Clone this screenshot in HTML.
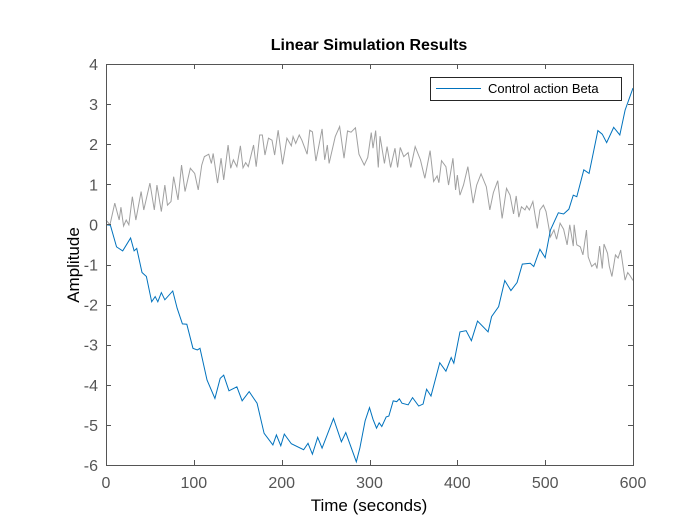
<!DOCTYPE html>
<html><head><meta charset="utf-8"><style>
html,body{margin:0;padding:0;background:#fff;}
svg text{font-family:"Liberation Sans",Arial,sans-serif;}
</style></head><body>
<svg id="chart" width="700" height="525" viewBox="0 0 700 525" xmlns="http://www.w3.org/2000/svg">
<rect x="0" y="0" width="700" height="525" fill="#fff"/>
<rect x="106" y="64" width="527" height="401" fill="#fff"/>
<g id="grayLayer"></g>
<g id="blueLayer"></g>
<g id="axes"></g>
<text x="369" y="50" text-anchor="middle" font-size="16" font-weight="bold" fill="#000">Linear Simulation Results</text>
<text x="369" y="511" text-anchor="middle" font-size="17" fill="#000">Time (seconds)</text>
<text transform="translate(79,265) rotate(-90)" text-anchor="middle" font-size="17" fill="#000">Amplitude</text>
<g>
<rect x="430.5" y="77.5" width="191" height="23" fill="#fff" stroke="#262626" stroke-width="1"/>
<line x1="436" y1="88.5" x2="481" y2="88.5" stroke="#0072BD" stroke-width="1"/>
<text x="488" y="93" font-size="13" fill="#000">Control action Beta</text>
</g>
</svg>
<script>
const xTicks = [0,100,200,300,400,500,600];
const yTicks = [-6,-5,-4,-3,-2,-1,0,1,2,3,4];
const grayT = [0,4.5,10,15,17,20,23,26,30,34,40,43,50,55,58,63,67,70,74,77,82,86,90,96,101,105,109,112,117,120,122,127,131,134,139,142,145,149,153,156,159,162,168,171,175,178,181,185,189,192,196,201,206,211,213,216,220,223,229,232,235,239,246,249,252,254,261,266,271,275,279,284,288,294,298,302,304,307,310,312,317,320,324,329,332,335,339,344,347,352,358,363,369,373,377,379,382,387,390,395,398,400,403,407,412,418,422,427,433,437,441,446,451,456,460,464,467,470,473,477,479,482,486,491,494,498,501,506,510,513,517,521,525,528,532,533,536,540,543,547,549,553,557,559,562,565,567,571,573,576,580,583,586,591,594,597,600];
const grayV = [0.11,-0.01,0.53,0.11,0.43,-0.04,0.11,-0.01,0.69,0.11,0.82,0.36,1.03,0.36,0.98,0.32,0.98,0.48,0.57,1.19,0.61,1.48,0.82,1.40,1.27,0.86,1.48,1.69,1.75,1.52,1.77,1.03,1.65,1.11,1.98,1.40,1.61,1.44,1.96,1.41,1.54,1.44,1.98,1.44,2.23,2.23,1.73,2.15,2.10,1.73,2.35,1.50,2.15,1.96,2.19,2.02,2.23,2.10,1.75,2.35,2.31,1.58,2.38,1.61,1.98,1.52,2.19,2.44,1.65,2.33,2.30,2.41,1.75,1.48,1.67,2.29,1.90,2.34,1.42,2.20,1.52,1.94,1.42,1.90,1.42,1.92,1.69,1.79,1.42,1.94,1.61,1.15,1.84,1.07,1.21,1.04,1.59,1.44,0.98,1.65,0.86,1.23,0.73,0.98,1.44,0.53,0.98,1.26,0.94,0.36,0.79,1.09,0.15,0.90,0.73,0.26,0.71,0.18,0.44,0.36,0.46,0.36,0.57,-0.10,0.36,0.48,0.32,-0.31,-0.14,-0.37,0.03,-0.12,-0.51,-0.01,-0.54,-0.01,-0.51,-0.56,-0.76,-0.14,-0.81,-1.05,-0.97,-1.10,-0.54,-1.10,-0.49,-0.72,-1.04,-1.30,-0.76,-0.84,-0.64,-1.39,-1.20,-1.29,-1.40];
const blueT = [0,5,12,19,28,32,35,41,46,52,56,59,63,67,76,81,87,92,99,104,107,115,124,130,134,140,149,155,163,172,180,190,194,199,203,211,225,230,235,241,246,259,268,273,285,289,295,300,304,308,311,314,319,322,327,331,334,337,344,349,356,361,365,370,380,387,393,396,403,410,416,423,435,439,447,454,461,468,474,483,487,494,500,506,515,521,527,532,536,544,550,560,565,570,578,585,591,600];
const blueV = [-0.01,-0.02,-0.56,-0.66,-0.34,-0.66,-0.60,-1.20,-1.30,-1.93,-1.80,-1.93,-1.70,-1.88,-1.66,-2.09,-2.48,-2.49,-3.09,-3.13,-3.09,-3.88,-4.34,-3.84,-3.76,-4.15,-4.05,-4.40,-4.17,-4.46,-5.21,-5.50,-5.25,-5.52,-5.23,-5.47,-5.62,-5.46,-5.73,-5.31,-5.58,-4.84,-5.42,-5.19,-5.92,-5.58,-4.90,-4.57,-4.86,-5.08,-4.95,-5.04,-4.80,-4.78,-4.40,-4.42,-4.35,-4.46,-4.50,-4.32,-4.53,-4.48,-4.11,-4.28,-3.45,-3.66,-3.32,-3.46,-2.68,-2.65,-2.90,-2.41,-2.68,-2.30,-2.05,-1.40,-1.65,-1.45,-0.99,-0.97,-1.05,-0.62,-0.83,-0.14,0.29,0.26,0.38,0.73,0.69,1.36,1.27,2.34,2.25,2.04,2.42,2.23,2.85,3.40];

const X0=106,X1=633,Y0=465,Y1=64;
const xs = t => X0 + (t-0)/(600-0)*(X1-X0);
const ys = v => Y0 - (v-(-6))/(4-(-6))*(Y0-Y1);
const NS='http://www.w3.org/2000/svg';
const AX='#555555';
function pathFrom(ts,vs){let d='';for(let i=0;i<ts.length;i++){d+=(i?'L':'M')+xs(ts[i]).toFixed(2)+','+ys(vs[i]).toFixed(2);}return d;}

const gp=document.createElementNS(NS,'path');
gp.setAttribute('d',pathFrom(grayT,grayV));
gp.setAttribute('fill','none');gp.setAttribute('stroke','#A0A0A0');gp.setAttribute('stroke-width','1');


document.getElementById('grayLayer').appendChild(gp);

const bp=document.createElementNS(NS,'path');
bp.setAttribute('d',pathFrom(blueT,blueV));
bp.setAttribute('fill','none');bp.setAttribute('stroke','#0072BD');bp.setAttribute('stroke-width','1');


document.getElementById('blueLayer').appendChild(bp);

const ax=document.getElementById('axes');
const box=document.createElementNS(NS,'rect');
box.setAttribute('x',X0+0.5);box.setAttribute('y',Y1+0.5);box.setAttribute('width',X1-X0);box.setAttribute('height',Y0-Y1);
box.setAttribute('fill','none');box.setAttribute('stroke',AX);box.setAttribute('stroke-width','1');


ax.appendChild(box);
xTicks.forEach(t=>{
  const x=Math.round(xs(t))+0.5;
  [[Y0,Y0-5],[Y1,Y1+5]].forEach(p=>{
    const l=document.createElementNS(NS,'line');
    l.setAttribute('x1',x);l.setAttribute('x2',x);l.setAttribute('y1',p[0]);l.setAttribute('y2',p[1]);
    l.setAttribute('stroke',AX);
    
    
    ax.appendChild(l);
  });
  const tx=document.createElementNS(NS,'text');
  tx.setAttribute('x',xs(t));tx.setAttribute('y',Y0+23);tx.setAttribute('text-anchor','middle');
  tx.setAttribute('font-size','16');tx.setAttribute('fill',AX);tx.textContent=t;
  
  
  ax.appendChild(tx);
});
yTicks.forEach(v=>{
  const y=Math.round(ys(v))+0.5;
  [[X0,X0+5],[X1,X1-5]].forEach(p=>{
    const l=document.createElementNS(NS,'line');
    l.setAttribute('y1',y);l.setAttribute('y2',y);l.setAttribute('x1',p[0]);l.setAttribute('x2',p[1]);
    l.setAttribute('stroke',AX);
    
    
    ax.appendChild(l);
  });
  const tx=document.createElementNS(NS,'text');
  tx.setAttribute('x',X0-8);tx.setAttribute('y',ys(v)+6);tx.setAttribute('text-anchor','end');
  tx.setAttribute('font-size','16');tx.setAttribute('fill',AX);tx.textContent=v;
  
  
  ax.appendChild(tx);
});
</script>
</body></html>
